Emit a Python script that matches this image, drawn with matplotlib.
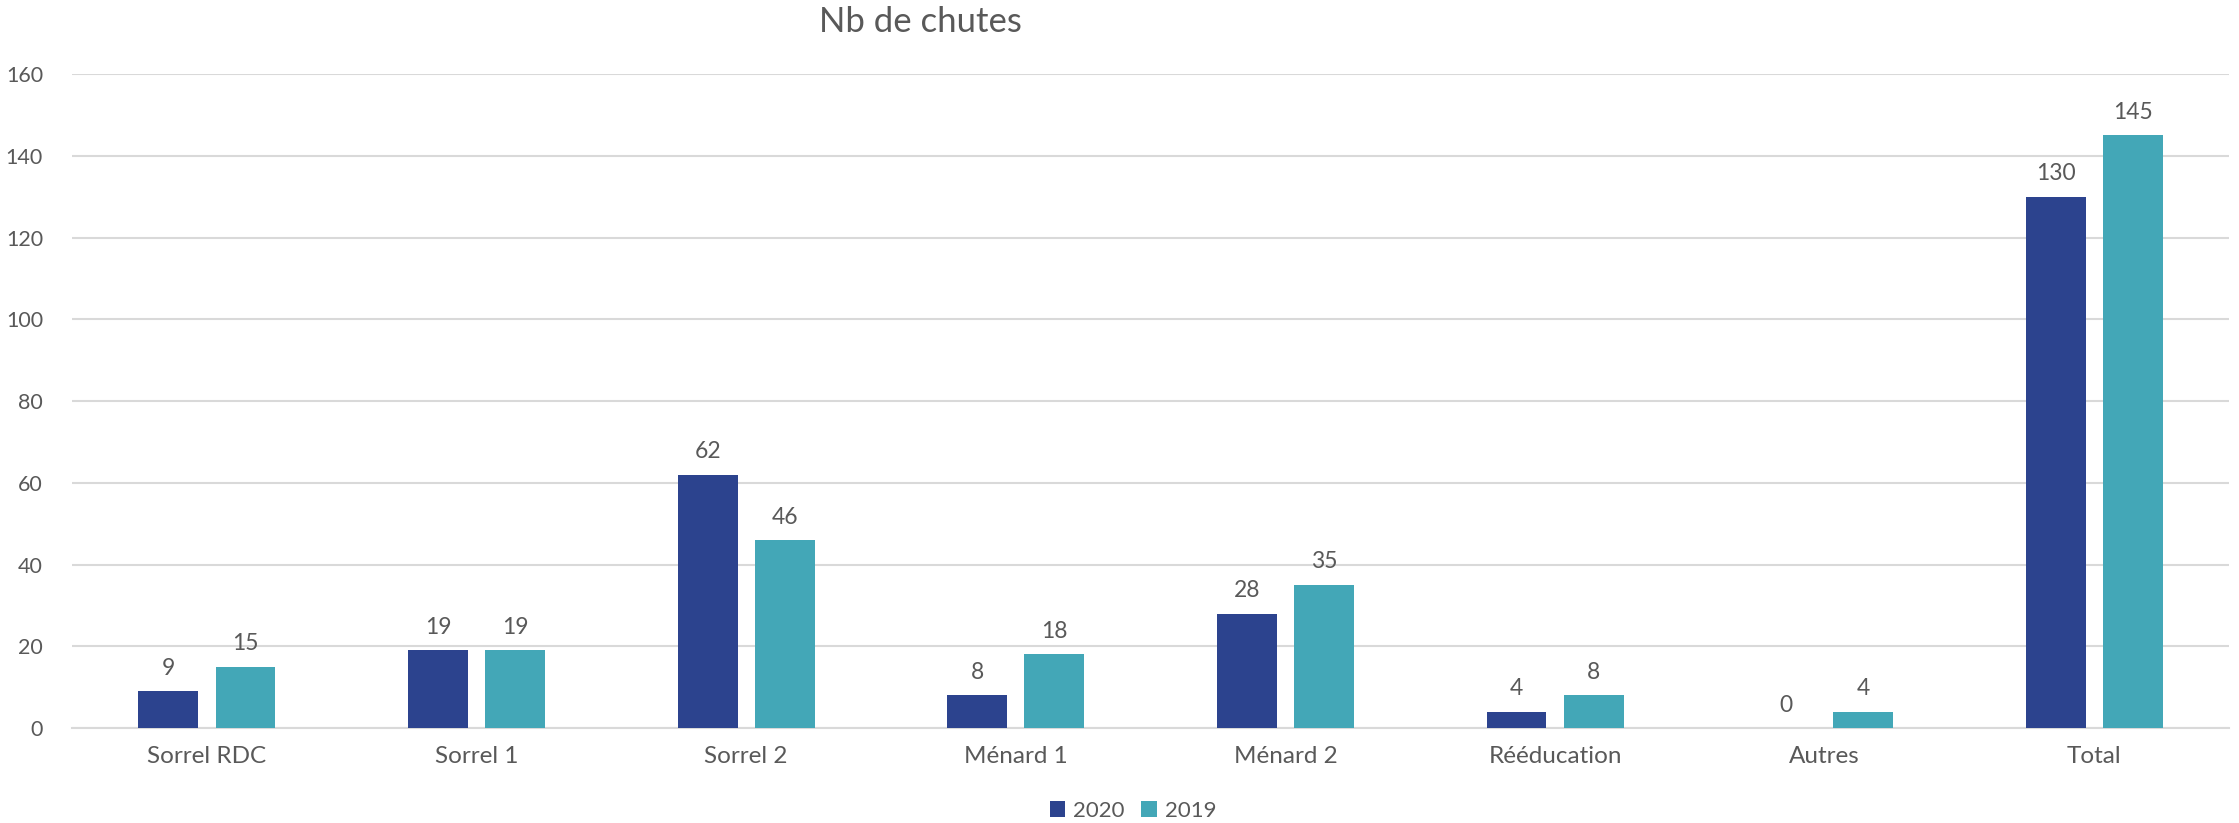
import matplotlib
matplotlib.use("Agg")
import matplotlib.pyplot as plt
import numpy as np

categories = ["Sorrel RDC", "Sorrel 1", "Sorrel 2", "Ménard 1", "Ménard 2", "Rééducation", "Autres", "Total"]
values_2020 = [9, 19, 62, 8, 28, 4, 0, 130]
values_2019 = [15, 19, 46, 18, 35, 8, 4, 145]
series_labels = ["2020", "2019"]
yticks = [0, 20, 40, 60, 80, 100, 120, 140, 160]
title = "Nb de chutes"

plt.rcParams['font.family'] = ['Lato', 'DejaVu Sans']
text_color = "#595959"
grid_color = "#D9D9D9"
c2020 = "#2C438E"
c2019 = "#43A7B7"

fig = plt.figure(figsize=(22.39, 8.23), dpi=100)
ax = fig.add_axes([0.0322, 0.1154, 0.9634, 0.7946])

x = np.arange(len(categories))
w = 0.222
off = 0.143
b1 = ax.bar(x - off, values_2020, w, color=c2020, label=series_labels[0], zorder=3)
b2 = ax.bar(x + off, values_2019, w, color=c2019, label=series_labels[1], zorder=3)

for bars in (b1, b2):
    for rect in bars:
        h = rect.get_height()
        ax.annotate(f"{int(h)}", (rect.get_x() + rect.get_width() / 2, h),
                    xytext=(0, 9), textcoords="offset points",
                    ha="center", va="bottom", fontsize=16.5, color=text_color)

ax.set_xlim(-0.5, len(categories) - 0.5)
ax.set_ylim(0, 160)
ax.set_yticks(yticks)
ax.set_xticks(x)
ax.set_xticklabels(categories, fontsize=17.5)
ax.tick_params(axis="both", length=0, colors=text_color)
ax.tick_params(axis="y", pad=21, labelsize=15.5)
ax.tick_params(axis="x", pad=13)
for s in ["top", "right", "left"]:
    ax.spines[s].set_visible(False)
ax.spines["bottom"].set_color(grid_color)
ax.spines["bottom"].set_linewidth(1.5)
ax.yaxis.grid(True, color=grid_color, linewidth=1.5, zorder=0)
ax.set_axisbelow(True)

fig.text(0.411, 0.973, title, ha="center", va="center", fontsize=25, color=text_color)

fig.legend(handles=[b1, b2], labels=series_labels, loc="center",
           bbox_to_anchor=(0.506, 0.015), ncol=2, frameon=False,
           fontsize=16, labelcolor=text_color, handlelength=0.7, handleheight=0.7,
           handletextpad=0.35, columnspacing=0.75)

fig.savefig("out.png", dpi=100)
